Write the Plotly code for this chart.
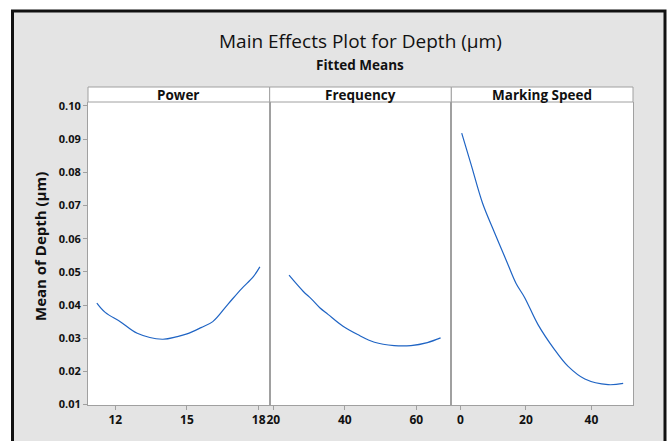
import plotly.graph_objects as go

# ---- data ----
power_x = [11.23, 11.58, 12.21, 12.92, 13.97, 14.6, 15.0, 15.59, 16.08, 16.72, 17.28, 17.77, 18.05]
power_y = [0.0406, 0.0378, 0.0350, 0.0315, 0.0297, 0.0305, 0.0313, 0.0332, 0.0350, 0.0403, 0.0449, 0.0485, 0.0515]

freq_x = [24.4, 28.4, 30.7, 33.0, 35.3, 39.5, 43.6, 48.3, 53.8, 58.5, 63.1, 66.8]
freq_y = [0.0490, 0.0441, 0.0418, 0.0392, 0.0372, 0.0336, 0.0311, 0.0288, 0.0278, 0.0278, 0.0287, 0.0301]

speed_x = [0.4, 3.25, 6.8, 10.4, 14.2, 17.0, 19.6, 23.7, 28.8, 32.9, 38.0, 45.1, 49.7]
speed_y = [0.0918, 0.0824, 0.0706, 0.0619, 0.0530, 0.0465, 0.0423, 0.0341, 0.0265, 0.0215, 0.0177, 0.0160, 0.0164]

panel_names = ["Power", "Frequency", "Marking Speed"]
x_ranges = [[10.86, 18.46], [18.98, 69.8], [-2.77, 52.7]]
x_ticks = [[12, 15, 18], [20, 40, 60], [0, 20, 40]]
y_ticks = [0.01, 0.02, 0.03, 0.04, 0.05, 0.06, 0.07, 0.08, 0.09, 0.10]
y_range = [0.00988, 0.1012]

title = "Main Effects Plot for Depth (µm)"
subtitle = "Fitted Means"
y_title = "Mean of Depth (µm)"

# ---- layout geometry ----
W, H = 669, 441
L, R, T, B = 88, 36, 87, 36
pw = W - L - R
ph = H - T - B
strip_h = 15
dom_top = (ph - strip_h) / ph

def px_x(p):
    return (p - L) / pw

def px_y(p):
    return (H - B - p) / ph

FONT = "Open Sans"
GRAY = "#a0a0a0"
BLUE = "#1f64c4"
TXT = "#111111"

fig = go.Figure()
xs = [power_x, freq_x, speed_x]
ys = [power_y, freq_y, speed_y]
doms = [[0, 1/3], [1/3, 2/3], [2/3, 1]]

for i in range(3):
    sfx = "" if i == 0 else str(i + 1)
    fig.add_trace(go.Scatter(x=xs[i], y=ys[i], mode="lines", line=dict(color=BLUE, width=1.2, shape="spline"),
                             xaxis="x" + sfx, yaxis="y" + sfx, showlegend=False, hoverinfo="skip"))
    fig.layout["xaxis" + sfx] = dict(domain=doms[i], range=x_ranges[i], anchor="y" + sfx,
                                     tickvals=x_ticks[i], ticks="outside", ticklen=4, tickcolor=GRAY,
                                     showline=True, linecolor=GRAY, linewidth=1, mirror=False,
                                     showgrid=False, zeroline=False,
                                     tickfont=dict(family=FONT, size=12, color=TXT, weight="bold"))
    yax = dict(domain=[0, dom_top], range=y_range, anchor="x" + sfx, showgrid=False, zeroline=False,
               showline=True, linecolor=GRAY, linewidth=1, mirror=True)
    if i == 0:
        yax.update(tickvals=y_ticks, tickformat=".2f", ticks="outside", ticklen=4, tickcolor=GRAY,
                   tickfont=dict(family=FONT, size=11, color=TXT, weight="bold"))
    else:
        yax.update(showticklabels=False, ticks="")
    fig.layout["yaxis" + sfx] = yax

shapes = [dict(type="rect", xref="paper", yref="paper", x0=px_x(12.5), x1=px_x(665), y0=px_y(450), y1=px_y(11),
               fillcolor="#e4e4e4", line=dict(color="#111", width=3), layer="below")]
annotations = []
for i in range(3):
    shapes.append(dict(type="rect", xref="paper", yref="paper", x0=doms[i][0], x1=doms[i][1], y0=0, y1=dom_top,
                       fillcolor="white", line=dict(width=0), layer="below"))
for i in range(3):
    shapes.append(dict(type="rect", xref="paper", yref="paper", x0=doms[i][0], x1=doms[i][1], y0=dom_top, y1=1,
                       fillcolor="white", line=dict(color=GRAY, width=1), layer="above"))
    annotations.append(dict(xref="paper", yref="paper", x=(doms[i][0] + doms[i][1]) / 2, y=(1 + dom_top) / 2,
                            text="<b>" + panel_names[i] + "</b>", showarrow=False,
                            font=dict(family=FONT, size=13.5, color=TXT), xanchor="center", yanchor="middle"))

annotations.append(dict(xref="paper", yref="paper", x=px_x(360), y=px_y(41.5), text=title, showarrow=False,
                        font=dict(family=FONT, size=19, color=TXT), xanchor="center", yanchor="middle"))
annotations.append(dict(xref="paper", yref="paper", x=px_x(360), y=px_y(65), text="<b>" + subtitle + "</b>",
                        showarrow=False, font=dict(family=FONT, size=13.5, color=TXT),
                        xanchor="center", yanchor="middle"))
annotations.append(dict(xref="paper", yref="paper", x=px_x(40), y=px_y(247), text="<b>" + y_title + "</b>",
                        showarrow=False, textangle=-90, font=dict(family=FONT, size=15, color=TXT),
                        xanchor="center", yanchor="middle"))

fig.update_layout(width=W, height=H, margin=dict(l=L, r=R, t=T, b=B), paper_bgcolor="white",
                  plot_bgcolor="white", shapes=shapes, annotations=annotations)

fig.write_html("out.html")
